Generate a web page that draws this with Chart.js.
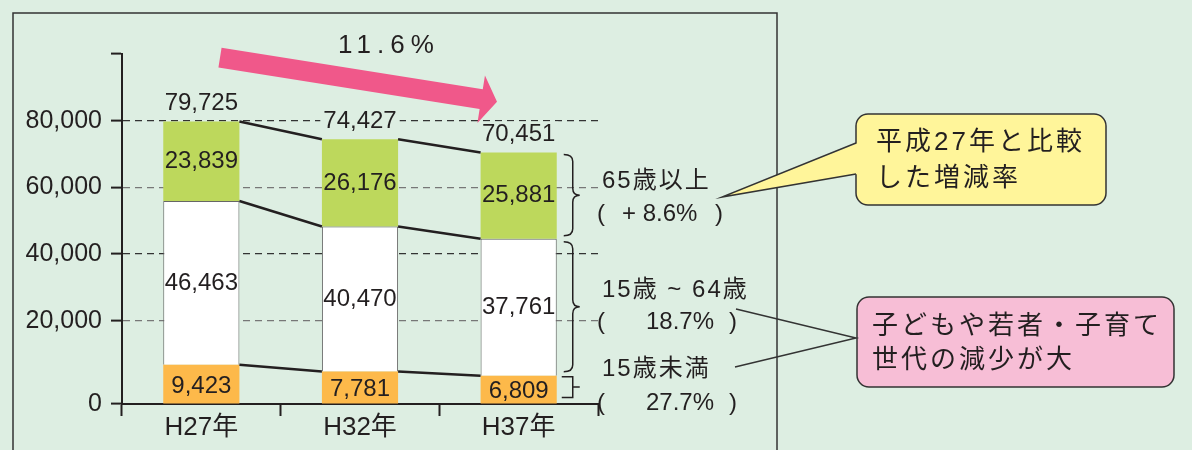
<!DOCTYPE html>
<html><head><meta charset="utf-8">
<script src="https://cdn.jsdelivr.net/npm/chart.js@4.4.1/dist/chart.umd.min.js"></script>
<style>html,body{margin:0;padding:0;background:#DDEEE2;overflow:hidden}#wrap{width:1192px;height:450px;position:relative}</style>
</head><body><div id="wrap"><canvas id="c" width="1192" height="450"></canvas></div>
<script>
// ---- data ----
const categories = ['H27年', 'H32年', 'H37年'];
const under15 = [9423, 7781, 6809];
const age15to64 = [46463, 40470, 37761];
const over65 = [23839, 26176, 25881];
const totals = [79725, 74427, 70451];
const yTicks = [0, 20000, 40000, 60000, 80000, 100000];
const seriesNames = ['15歳未満', '15歳 ~ 64歳', '65歳以上'];
const seriesChange = ['27.7%', '18.7%', '+ 8.6%'];
const totalChange = '11.6%';
const noteUp = ['平成27年と比較', 'した増減率'];
const noteDown = ['子どもや若者・子育て', '世代の減少が大'];

// ---- style ----
const FONT = "'Liberation Sans', 'Noto Sans CJK JP', sans-serif";
const INK = '#231f20';
const BG = '#DDEEE2';
const BREAK_VALUE = 20000, BREAK_FRAC = 0.238;

class StretchScale extends Chart.LinearScale {
  getPixelForValue(value) {
    if (value === null || value === undefined || isNaN(value)) return NaN;
    let dec;
    if (value <= BREAK_VALUE) dec = (value - this.min) / (BREAK_VALUE - this.min) * BREAK_FRAC;
    else dec = BREAK_FRAC + (value - BREAK_VALUE) / (this.max - BREAK_VALUE) * (1 - BREAK_FRAC);
    return this.getPixelForDecimal(dec);
  }
  getValueForPixel(pixel) {
    const dec = this.getDecimalForPixel(pixel);
    if (dec <= BREAK_FRAC) return this.min + dec / BREAK_FRAC * (BREAK_VALUE - this.min);
    return BREAK_VALUE + (dec - BREAK_FRAC) / (1 - BREAK_FRAC) * (this.max - BREAK_VALUE);
  }
}
StretchScale.id = 'stretchLinear';
StretchScale.defaults = Chart.LinearScale.defaults;
Chart.register(StretchScale);

function txt(ctx, s, x, y, size, align, spacing) {
  ctx.save();
  ctx.font = size + 'px ' + FONT;
  ctx.fillStyle = INK;
  ctx.textAlign = align || 'left';
  ctx.textBaseline = 'middle';
  if (spacing) ctx.letterSpacing = spacing + 'px';
  ctx.fillText(s, x, y);
  ctx.restore();
}
function brace(ctx, x0, y1, y2) {
  const x1 = x0 + 9, xt = x0 + 16, ym = (y1 + y2) / 2, r = 7;
  ctx.beginPath();
  ctx.moveTo(x0, y1);
  ctx.quadraticCurveTo(x1, y1, x1, y1 + r);
  ctx.lineTo(x1, ym - r);
  ctx.quadraticCurveTo(x1, ym, xt, ym);
  ctx.quadraticCurveTo(x1, ym, x1, ym + r);
  ctx.lineTo(x1, y2 - r);
  ctx.quadraticCurveTo(x1, y2, x0, y2);
  ctx.stroke();
}

const decor = {
  id: 'decor',
  beforeDraw(chart) {
    const ctx = chart.ctx;
    ctx.save();
    ctx.fillStyle = BG;
    ctx.fillRect(0, 0, chart.width, chart.height);
    ctx.strokeStyle = '#333';
    ctx.lineWidth = 1.5;
    ctx.strokeRect(13, 13, 764, 460);
    ctx.restore();
  },
  afterDatasetsDraw(chart) {
    const ctx = chart.ctx;
    const metas = [0, 1, 2].map(i => chart.getDatasetMeta(i).data);
    ctx.save();
    // connecting lines
    ctx.strokeStyle = INK; ctx.lineWidth = 2.5;
    metas.forEach(bars => {
      for (let j = 0; j < bars.length - 1; j++) {
        const a = bars[j], b = bars[j + 1];
        ctx.beginPath();
        ctx.moveTo(a.x + a.width / 2, a.y);
        ctx.lineTo(b.x - b.width / 2, b.y);
        ctx.stroke();
      }
    });
    // segment labels
    const sets = [under15, age15to64, over65];
    metas.forEach((bars, i) => bars.forEach((b, j) => {
      txt(ctx, sets[i][j].toLocaleString('en-US'), b.x, (b.y + b.base) / 2 + (i === 0 ? 2 : 0), 24, 'center');
    }));
    // totals
    metas[2].forEach((b, j) => {
      const s = totals[j].toLocaleString('en-US');
      ctx.font = '24px ' + FONT;
      const w = ctx.measureText(s).width;
      ctx.fillStyle = BG;
      ctx.fillRect(b.x - w / 2 - 3, b.y - 31, w + 6, 26);
      txt(ctx, s, b.x, b.y - 18, 24, 'center');
    });
    // braces on last bar
    ctx.strokeStyle = INK; ctx.lineWidth = 1.5;
    const last = metas.map(bars => bars[bars.length - 1]);
    const bx = last[0].x + last[0].width / 2 + 7;
    brace(ctx, bx, last[2].y + 2, last[2].base - 3);
    brace(ctx, bx, last[1].y + 3, last[1].base - 4);
    const o1 = last[0].y + 1, o2 = last[0].base - 6, om = (o1 + o2) / 2;
    ctx.beginPath();
    ctx.moveTo(bx - 2, o1); ctx.lineTo(bx + 9, o1); ctx.lineTo(bx + 9, o2); ctx.lineTo(bx - 2, o2);
    ctx.moveTo(bx + 9, om); ctx.lineTo(bx + 16, om);
    ctx.stroke();
    // series labels on the right
    const rows = [[181.5, 214], [290, 322], [369, 403]];
    const order = [2, 1, 0];
    const changeX = [622, 646, 646];
    const closeX = [715, 729, 729];
    order.forEach((si, r) => {
      txt(ctx, seriesNames[si], 602, rows[r][0], 24, 'left', 2);
      txt(ctx, '(', 597, rows[r][1], 24);
      txt(ctx, seriesChange[si], changeX[r], rows[r][1], 24);
      txt(ctx, ')', closeX[r], rows[r][1], 24);
    });
    // yellow callout
    ctx.lineWidth = 1.5; ctx.strokeStyle = '#333';
    ctx.fillStyle = '#FFF59A';
    ctx.beginPath(); ctx.roundRect(856, 114, 250, 91, 12); ctx.fill(); ctx.stroke();
    ctx.beginPath(); ctx.moveTo(858, 143); ctx.lineTo(722, 197); ctx.lineTo(858, 174); ctx.closePath(); ctx.fill();
    ctx.beginPath(); ctx.moveTo(856, 143); ctx.lineTo(722, 197); ctx.lineTo(856, 174); ctx.stroke();
    txt(ctx, noteUp[0], 876, 143, 26, 'left', 3);
    txt(ctx, noteUp[1], 876, 179, 26, 'left', 3);
    // pink callout
    ctx.fillStyle = '#F7BED6';
    ctx.beginPath(); ctx.roundRect(857, 297, 317, 90, 12); ctx.fill(); ctx.stroke();
    ctx.beginPath(); ctx.moveTo(736, 309); ctx.lineTo(856, 338); ctx.lineTo(735, 367); ctx.stroke();
    txt(ctx, noteDown[0], 872, 327, 26, 'left', 3);
    txt(ctx, noteDown[1], 872, 361, 26, 'left', 3);
    // pink arrow
    const S = [220, 57.7], T = [497, 101.7];
    const dx = T[0] - S[0], dy = T[1] - S[1], L = Math.hypot(dx, dy);
    const u = [dx / L, dy / L], n = [-u[1], u[0]];
    const B = [T[0] - 16 * u[0], T[1] - 16 * u[1]];
    const p = (c, k) => [c[0] + k * n[0], c[1] + k * n[1]];
    const pts = [p(S, -10), p(B, -10), p(B, -24), T, p(B, 24), p(B, 10), p(S, 10)];
    ctx.fillStyle = '#F0588A';
    ctx.beginPath(); pts.forEach((q, i) => i ? ctx.lineTo(q[0], q[1]) : ctx.moveTo(q[0], q[1])); ctx.closePath(); ctx.fill();
    txt(ctx, totalChange, 338, 46, 26, 'left', 6);
    ctx.restore();
  }
};

new Chart(document.getElementById('c'), {
  type: 'bar',
  data: {
    labels: categories,
    datasets: [
      { label: seriesNames[0], data: under15, backgroundColor: '#FDB94A', borderWidth: 0 },
      { label: seriesNames[1], data: age15to64, backgroundColor: '#FFFFFF', borderColor: '#666', borderWidth: 1 },
      { label: seriesNames[2], data: over65, backgroundColor: '#BDD85C', borderWidth: 0 }
    ]
  },
  options: {
    responsive: false,
    animation: false,
    devicePixelRatio: 1,
    layout: { padding: { left: 0, right: 594, top: 54, bottom: 0 } },
    plugins: { legend: { display: false }, tooltip: { enabled: false } },
    datasets: { bar: { categoryPercentage: 1, barPercentage: 0.48 } },
    scales: {
      x: {
        stacked: true,
        afterFit: s => { s.height = 46; },
        grid: { offset: true, drawOnChartArea: false, drawTicks: true, tickLength: 12, tickColor: INK, tickWidth: 2 },
        border: { color: INK, width: 2 },
        ticks: { font: { family: FONT, size: 26 }, color: INK, padding: -4 }
      },
      y: {
        type: 'stretchLinear',
        stacked: true,
        min: 0, max: 100000,
        afterFit: s => { s.width = 122; },
        afterBuildTicks: s => { s.ticks = yTicks.map(v => ({ value: v })); },
        grid: {
          color: c => {
            const v = c.tick ? c.tick.value : null;
            if (v === 0 || v === 100000) return 'rgba(0,0,0,0)';
            return (v === 20000 || v === 60000) ? '#777' : '#333';
          },
          lineWidth: 1.2,
          tickLength: 11, tickColor: INK, tickWidth: 2
        },
        border: { color: INK, width: 2, dash: [7, 5] },
        ticks: {
          font: { family: FONT, size: 25 }, color: INK, padding: 9,
          callback: v => v === 100000 ? '' : Number(v).toLocaleString('en-US')
        }
      }
    }
  },
  plugins: [decor]
});
</script></body></html>
